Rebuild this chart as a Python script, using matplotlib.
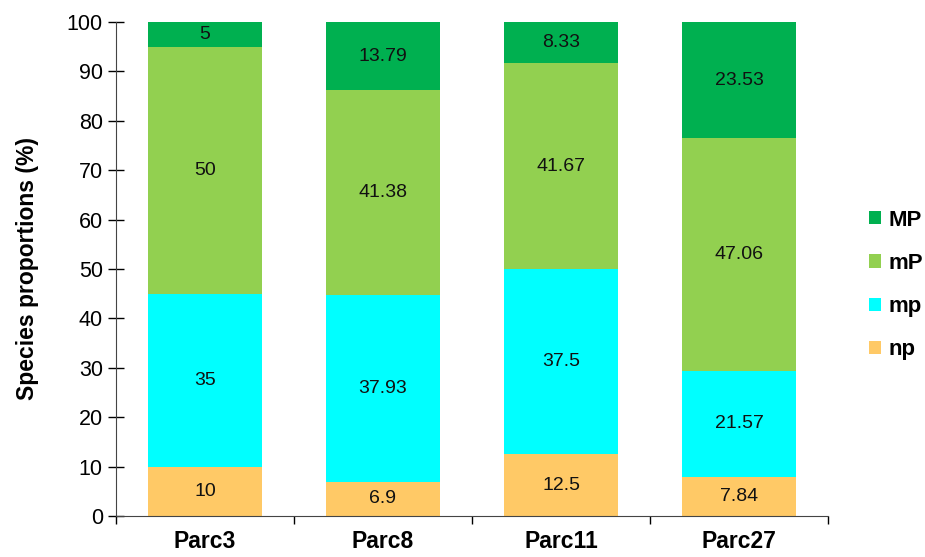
import matplotlib
matplotlib.use("Agg")
import matplotlib.pyplot as plt
import numpy as np

plt.rcParams['font.family'] = ['Liberation Sans', 'DejaVu Sans']

# species proportions (%) per parcel
parcs = ['Parc3', 'Parc8', 'Parc11', 'Parc27']
np_vals = [10, 6.9, 12.5, 7.84]
mp_vals = [35, 37.93, 37.5, 21.57]
mP_vals = [50, 41.38, 41.67, 47.06]
MP_vals = [5, 13.79, 8.33, 23.53]

series = [('np', np_vals, '#FFC966'),
          ('mp', mp_vals, '#00FFFF'),
          ('mP', mP_vals, '#92D050'),
          ('MP', MP_vals, '#00B050')]

fig = plt.figure(figsize=(9.25, 5.57), dpi=100)
ax = fig.add_axes([116/925, 1 - 516/557, 712/925, 494/557])

x = np.arange(len(parcs))
bottom = np.zeros(len(parcs))
handles = []
for name, vals, col in series:
    vals = np.array(vals)
    b = ax.bar(x, vals, width=0.64, bottom=bottom, color=col, label=name)
    handles.append(b)
    for xi, v, bt in zip(x, vals, bottom):
        ax.text(xi, bt + v / 2, f'{v:g}', ha='center', va='center',
                fontsize=14, color='#111111')
    bottom += vals

ax.set_xlim(-0.5, len(parcs) - 0.5)
ax.set_ylim(0, 100)
ax.set_yticks(np.arange(0, 101, 10))
ax.tick_params(axis='y', direction='inout', length=11, width=1, labelsize=15.5, pad=4)

# category labels in the middle, ticks at category boundaries
ax.set_xticks(x)
ax.set_xticklabels(parcs, fontsize=16.5, fontweight='bold')
ax.tick_params(axis='x', length=0, pad=10)
ax.set_xticks(np.arange(-0.5, len(parcs), 1), minor=True)
ax.tick_params(axis='x', which='minor', direction='out', length=6, width=1)

for s in ['top', 'right']:
    ax.spines[s].set_visible(False)
for s in ['left', 'bottom']:
    ax.spines[s].set_color('#444444')

ax.set_ylabel('Species proportions (%)', fontsize=16.5, fontweight='bold', labelpad=20)

leg = fig.legend(handles[::-1], [h.get_label() for h in handles[::-1]],
                 loc='center left', bbox_to_anchor=(869/925, 1 - 285/557),
                 frameon=False, prop={'size': 16, 'weight': 'bold'},
                 handlelength=0.55, handleheight=0.55, handletextpad=0.35,
                 labelspacing=1.0, borderaxespad=0, borderpad=0)

fig.savefig('out.png', dpi=100)
